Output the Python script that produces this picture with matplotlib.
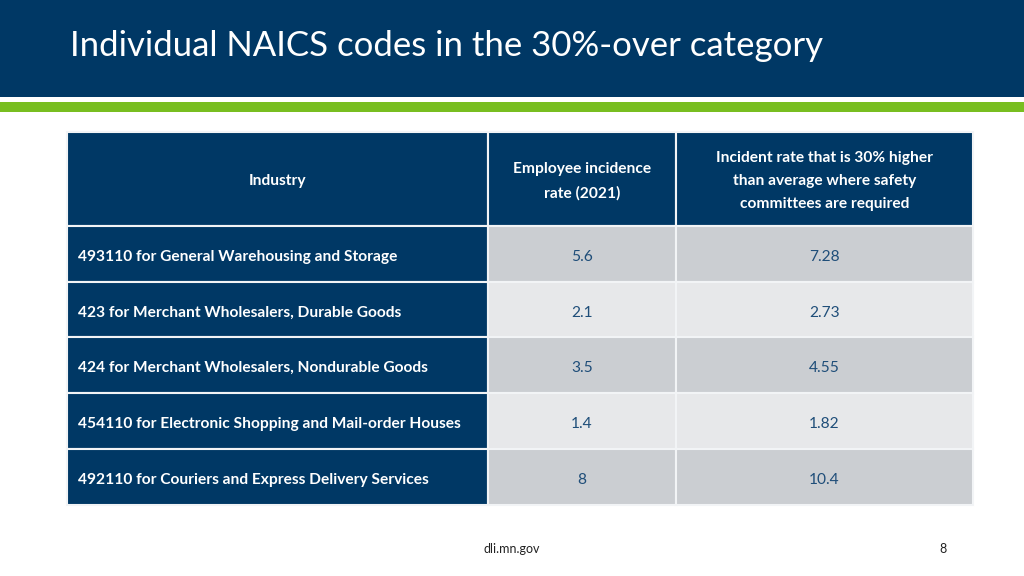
import matplotlib.pyplot as plt
from matplotlib.patches import Rectangle

plt.rcParams['font.family'] = ['Lato', 'DejaVu Sans']

title = 'Individual NAICS codes in the 30%-over category'
headers = ['Industry', 'Employee incidence\nrate (2021)',
           'Incident rate that is 30% higher\nthan average where safety\ncommittees are required']
industries = ['493110 for General Warehousing and Storage',
              '423 for Merchant Wholesalers, Durable Goods',
              '424 for Merchant Wholesalers, Nondurable Goods',
              '454110 for Electronic Shopping and Mail-order Houses',
              '492110 for Couriers and Express Delivery Services']
incidence_2021 = ['5.6', '2.1', '3.5', '1.4', '8']
over_30 = ['7.28', '2.73', '4.55', '1.82', '10.4']

navy = '#003865'
green = '#78BE20'
gray_dark = '#CBCED2'
gray_light = '#E7E8EA'
num_color = '#1F4E79'

fig = plt.figure(figsize=(10.24, 5.76), dpi=100)
ax = fig.add_axes([0, 0, 1, 1])
ax.set_xlim(0, 1024)
ax.set_ylim(576, 0)
ax.axis('off')

# banner
ax.add_patch(Rectangle((0, 0), 1024, 97, color=navy, lw=0))
ax.add_patch(Rectangle((0, 102), 1024, 10, color=green, lw=0))
ax.text(70, 46, title, color='white', fontsize=25, va='center', ha='left')

# table layout
col_x = [67, 488, 676, 973]
head_top, head_bot = 132, 226
row_h = 55.7
fs = 11.2
dy = 3

def cell(x0, x1, y0, y1, fc):
    ax.add_patch(Rectangle((x0, y0), x1 - x0, y1 - y0, facecolor=fc,
                           edgecolor='#F2F4F6', lw=1.5))

for c in range(3):
    cell(col_x[c], col_x[c + 1], head_top, head_bot, navy)
    ax.text((col_x[c] + col_x[c + 1]) / 2, (head_top + head_bot) / 2 + 2, headers[c],
            color='white', fontsize=fs, fontweight='bold', ha='center', va='center',
            linespacing=1.85)

for i, name in enumerate(industries):
    y0 = head_bot + i * row_h
    y1 = y0 + row_h
    fc = gray_dark if i % 2 == 0 else gray_light
    cell(col_x[0], col_x[1], y0, y1, navy)
    cell(col_x[1], col_x[2], y0, y1, fc)
    cell(col_x[2], col_x[3], y0, y1, fc)
    ym = (y0 + y1) / 2 + dy
    ax.text(col_x[0] + 11, ym, name, color='white', fontsize=fs, fontweight='bold',
            ha='left', va='center')
    ax.text((col_x[1] + col_x[2]) / 2, ym, incidence_2021[i], color=num_color,
            fontsize=fs, ha='center', va='center')
    ax.text((col_x[2] + col_x[3]) / 2, ym, over_30[i], color=num_color,
            fontsize=fs, ha='center', va='center')

# footer
ax.text(512, 549, 'dli.mn.gov', color='#222222', fontsize=9, ha='center', va='center')
ax.text(943, 549, '8', color='#222222', fontsize=9, ha='center', va='center')

fig.savefig('out.png', dpi=100, facecolor='white')
